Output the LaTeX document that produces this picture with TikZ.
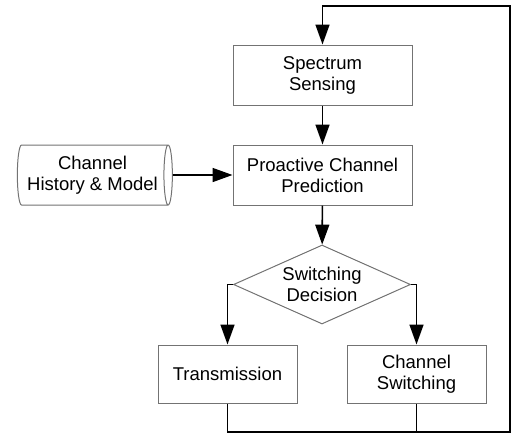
\documentclass[tikz,border=0pt]{standalone}
\usepackage{fontspec}
\setmainfont{Liberation Sans}
\usetikzlibrary{arrows.meta,shapes.geometric}
\begin{document}
\begin{tikzpicture}[x=1pt,y=-1pt,
  box/.style={draw=black!55,line width=1pt,fill=white,align=center,inner sep=0pt,
    font=\fontsize{18.5}{21}\selectfont},
  conn/.style={line width=1.6pt,black},
  arr/.style={conn,-{Triangle[length=20pt,width=14pt]}}]
\useasboundingbox (0,0) rectangle (511,434);
\node[box,minimum width=179pt,minimum height=60pt] (ss) at (322.5,75) {Spectrum\\Sensing};
\node[box,minimum width=179pt,minimum height=60pt] (pcp) at (322.5,175) {Proactive Channel\\Prediction};
\node[box,cylinder,shape aspect=0.22,minimum width=60pt,minimum height=155pt] (chm) at (92.5,175) {Channel\\History \& Model};
\node[box,diamond,aspect=2.24,minimum width=177pt,minimum height=79pt] (sd) at (322,284.5) {Switching\\Decision};
\node[box,minimum width=139pt,minimum height=58pt] (tr) at (227.5,374) {Transmission};
\node[box,minimum width=139pt,minimum height=58pt] (cs) at (416.5,374) {Channel\\Switching};
\coordinate (br) at (510,432);
\coordinate (tp) at (510,6);
\draw[arr] (ss) -- (pcp);
\draw[arr] (chm) -- (pcp);
\draw[arr] (pcp) -- (sd);
\draw[arr] (sd.west) -| (tr.north);
\draw[arr] (sd.east) -| (cs.north);
\draw[conn] (cs.south) -- (cs.south |- br);
\draw[arr] (tr.south) |- (br) -- (tp) -| (ss.north);
\end{tikzpicture}
\end{document}
